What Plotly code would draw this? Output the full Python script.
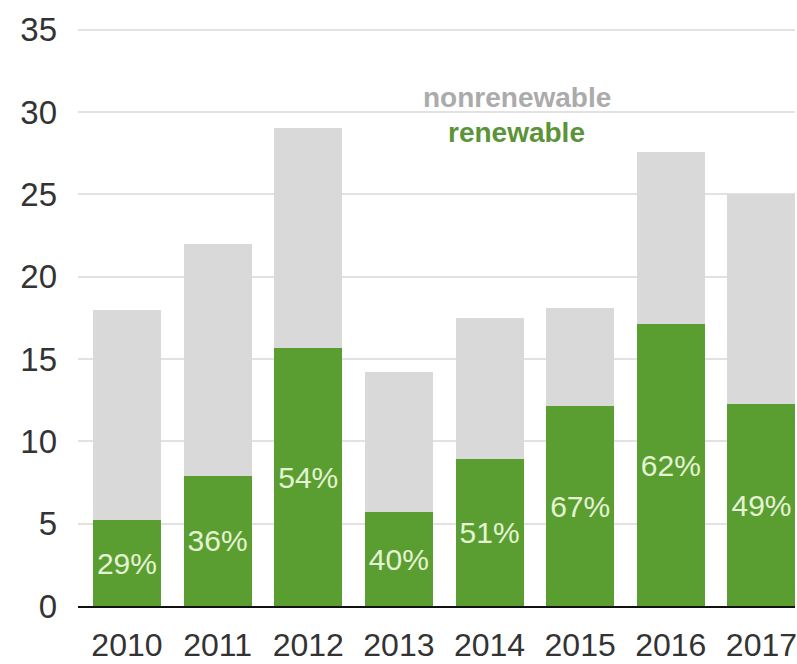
import plotly.graph_objects as go

# Annual capacity additions, split into renewable / nonrenewable
years = ["2010", "2011", "2012", "2013", "2014", "2015", "2016", "2017"]
totals = [18.0, 22.0, 29.0, 14.2, 17.5, 18.1, 27.6, 25.0]
renewable_pct = [29, 36, 54, 40, 51, 67, 62, 49]
y_ticks = [0, 5, 10, 15, 20, 25, 30, 35]

renewable = [t * p / 100 for t, p in zip(totals, renewable_pct)]
nonrenewable = [t - r for t, r in zip(totals, renewable)]
pct_labels = [f"{p}%" for p in renewable_pct]

GREEN = "#5a9e32"
GREY = "#d9d9d9"
FONT = "Liberation Sans, Arial, sans-serif"

fig = go.Figure()
fig.add_trace(go.Bar(
    x=years, y=renewable, name="renewable",
    marker=dict(color=GREEN, line=dict(width=0)),
    text=pct_labels, textposition="inside", insidetextanchor="middle",
    constraintext="none",
    textfont=dict(family=FONT, size=30, color="#e4f3d2"),
    width=0.75,
))
fig.add_trace(go.Bar(
    x=years, y=nonrenewable, name="nonrenewable",
    marker=dict(color=GREY, line=dict(width=0)),
    width=0.75,
))

fig.add_annotation(text="<b>nonrenewable</b>", xref="paper", yref="paper",
                   x=0.612, y=0.880, xanchor="center", yanchor="middle",
                   showarrow=False, font=dict(family=FONT, size=28, color="#ababab"))
fig.add_annotation(text="<b>renewable</b>", xref="paper", yref="paper",
                   x=0.612, y=0.819, xanchor="center", yanchor="middle",
                   showarrow=False, font=dict(family=FONT, size=28, color="#5b9438"))

fig.update_layout(
    width=797, height=664,
    margin=dict(l=78, r=0, t=28, b=58),
    barmode="stack",
    showlegend=False,
    plot_bgcolor="white", paper_bgcolor="white",
    font=dict(family=FONT, color="#333333"),
)
fig.update_xaxes(
    type="category", range=[-0.54, 7.37],
    showline=True, linecolor="#111111", linewidth=2,
    showgrid=False, ticks="",
    tickfont=dict(family=FONT, size=32, color="#333333"),
    ticklabelstandoff=10,
)
fig.update_yaxes(
    range=[0, 35.1], tickvals=y_ticks,
    showgrid=True, gridcolor="#e2e2e2", gridwidth=2,
    zeroline=False, showline=False, ticks="",
    tickfont=dict(family=FONT, size=33, color="#333333"),
    ticklabelstandoff=20,
)

fig.write_html("out.html")
